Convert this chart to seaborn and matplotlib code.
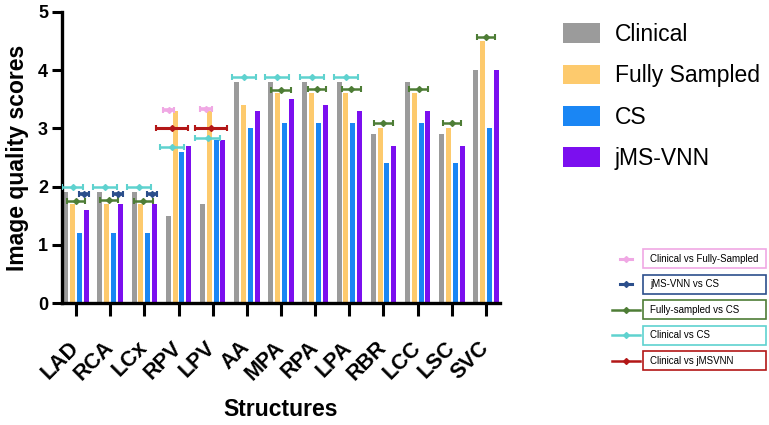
import matplotlib
matplotlib.use('Agg')
import matplotlib.pyplot as plt
from matplotlib.patches import Patch, Rectangle
from matplotlib.lines import Line2D
import seaborn as sns
import pandas as pd

structures = ['LAD', 'RCA', 'LCx', 'RPV', 'LPV', 'AA', 'MPA', 'RPA', 'LPA', 'RBR', 'LCC', 'LSC', 'SVC']
methods = ['Clinical', 'Fully Sampled', 'CS', 'jMS-VNN']

clinical = [1.9, 1.9, 1.9, 1.5, 1.7, 3.8, 3.8, 3.8, 3.8, 2.9, 3.8, 2.9, 4.0]
fully_sampled = [1.7, 1.7, 1.7, 3.3, 3.3, 3.4, 3.6, 3.6, 3.6, 3.0, 3.6, 3.0, 4.5]
cs = [1.2, 1.2, 1.2, 2.6, 2.8, 3.0, 3.1, 3.1, 3.1, 2.4, 3.1, 2.4, 3.0]
jmsvnn = [1.6, 1.7, 1.7, 2.7, 2.8, 3.3, 3.5, 3.4, 3.3, 2.7, 3.3, 2.7, 4.0]

bar_colors = ['#9b9b9b', '#fdca6d', '#1a86f4', '#7b0fef']

# significance markers: structure, offset from group centre, y, half width
cvf_struct = ['RPV', 'LPV']
cvf_off = [-0.28, -0.20]
cvf_y = [3.31, 3.33]
cvf_hw = [0.16, 0.17]

jvc_struct = ['LAD', 'RCA', 'LCx']
jvc_off = [0.23, 0.23, 0.22]
jvc_y = [1.87, 1.87, 1.87]
jvc_hw = [0.15, 0.15, 0.15]

fvc_struct = ['LAD', 'RCA', 'LCx', 'MPA', 'RPA', 'LPA', 'RBR', 'LCC', 'LSC', 'SVC']
fvc_off = [0.0, -0.03, -0.03, 0.0, 0.06, 0.06, 0.0, 0.03, 0.0, 0.0]
fvc_y = [1.75, 1.77, 1.75, 3.66, 3.68, 3.68, 3.09, 3.68, 3.09, 4.57]
fvc_hw = [0.26, 0.27, 0.27, 0.28, 0.27, 0.27, 0.27, 0.27, 0.27, 0.27]

cvc_struct = ['LAD', 'RCA', 'LCx', 'RPV', 'LPV', 'AA', 'MPA', 'RPA', 'LPA']
cvc_off = [-0.10, -0.15, -0.16, -0.18, -0.15, -0.08, -0.12, -0.09, -0.09]
cvc_y = [2.0, 2.0, 2.0, 2.68, 2.83, 3.88, 3.88, 3.88, 3.88]
cvc_hw = [0.31, 0.35, 0.35, 0.35, 0.36, 0.35, 0.35, 0.35, 0.35]

cvj_struct = ['RPV', 'LPV']
cvj_off = [-0.19, -0.06]
cvj_y = [3.01, 3.01]
cvj_hw = [0.46, 0.47]

sig_labels = ['Clinical vs Fully-Sampled', 'jMS-VNN vs CS', 'Fully-sampled vs CS',
              'Clinical vs CS', 'Clinical vs jMSVNN']
sig_colors = ['#f0a8e4', '#2c4f8c', '#4e7d36', '#5fd2cf', '#b31717']


def main():
    df = pd.DataFrame({
        'Structure': structures * 4,
        'Method': sum([[m] * len(structures) for m in methods], []),
        'Score': clinical + fully_sampled + cs + jmsvnn,
    })

    W, H = 769, 425
    fig = plt.figure(figsize=(W / 100, H / 100), dpi=100)
    ax = fig.add_axes([62 / W, 1 - 303 / H, 438 / W, 291 / H])

    sns.barplot(data=df, x='Structure', y='Score', hue='Method', palette=bar_colors,
                order=structures, hue_order=methods, width=0.8, gap=0.25,
                errorbar=None, legend=False, ax=ax, saturation=1)

    sig_sets = [
        (cvf_struct, cvf_off, cvf_y, cvf_hw),
        (jvc_struct, jvc_off, jvc_y, jvc_hw),
        (fvc_struct, fvc_off, fvc_y, fvc_hw),
        (cvc_struct, cvc_off, cvc_y, cvc_hw),
        (cvj_struct, cvj_off, cvj_y, cvj_hw),
    ]
    widths = [2.6, 2.6, 1.8, 1.8, 2.2]
    for (st, off, yy, hw), col, lw in zip(sig_sets, sig_colors, widths):
        xx = [structures.index(s) + o for s, o in zip(st, off)]
        ax.errorbar(xx, yy, xerr=hw, fmt='D', ms=3, color=col, ecolor=col,
                    elinewidth=lw, capsize=2, capthick=1.5, zorder=5)

    ax.set_xlim(-0.41, 12.41)
    ax.set_ylim(0, 5)
    ax.set_yticks([0, 1, 2, 3, 4, 5])
    for side in ['top', 'right']:
        ax.spines[side].set_visible(False)
    for side in ['left', 'bottom']:
        ax.spines[side].set_linewidth(2.4)
    ax.tick_params(axis='y', length=7, width=2.2, pad=3, labelsize=13)
    ax.tick_params(axis='x', length=9, width=2.2, pad=21, labelsize=15.5)
    for lab in ax.get_yticklabels():
        lab.set_fontweight('bold')
    for lab in ax.get_xticklabels():
        lab.set_fontweight('bold')
        lab.set_rotation(45)
        lab.set_ha('right')
        lab.set_va('center')
        lab.set_rotation_mode('anchor')

    ax.set_ylabel('Image quality scores', fontsize=16.5, fontweight='bold')
    ax.set_xlabel('Structures', fontsize=16.5, fontweight='bold')
    ax.yaxis.set_label_coords(-0.076, 0.5)
    ax.xaxis.set_label_coords(0.5, -0.325)

    handles = [Patch(facecolor=c, edgecolor='none') for c in bar_colors]
    fig.legend(handles, methods, loc='upper left', bbox_to_anchor=(563 / W, 1 - 23 / H),
               frameon=False, fontsize=16.5, handlelength=1.6, handleheight=0.95,
               handletextpad=0.65, labelspacing=0.8, borderpad=0, borderaxespad=0)

    # boxed legend for the significance markers
    for i, (lab, col) in enumerate(zip(sig_labels, sig_colors)):
        yc = 258.5 + 25.6 * i
        fig.add_artist(Rectangle((643 / W, 1 - (yc + 9.5) / H), 123 / W, 19 / H,
                                 transform=fig.transFigure, facecolor='white',
                                 edgecolor=col, linewidth=1.2))
        fig.text(650 / W, 1 - yc / H, lab, fontsize=7, ha='left', va='center',
                 family='Liberation Sans')
        half = 6 if i < 2 else 14
        xs = [(626 - half) / W, (626 + half) / W]
        fig.add_artist(Line2D(xs, [1 - yc / H] * 2, transform=fig.transFigure,
                              color=col, lw=2.2 if i < 2 else 1.8))
        fig.add_artist(Line2D([626 / W], [1 - yc / H], transform=fig.transFigure,
                              color=col, marker='D', ms=3, lw=0))

    fig.savefig('out.png', dpi=100)


if __name__ == '__main__':
    plt.rcParams['font.family'] = ['Liberation Sans', 'DejaVu Sans']
    main()
